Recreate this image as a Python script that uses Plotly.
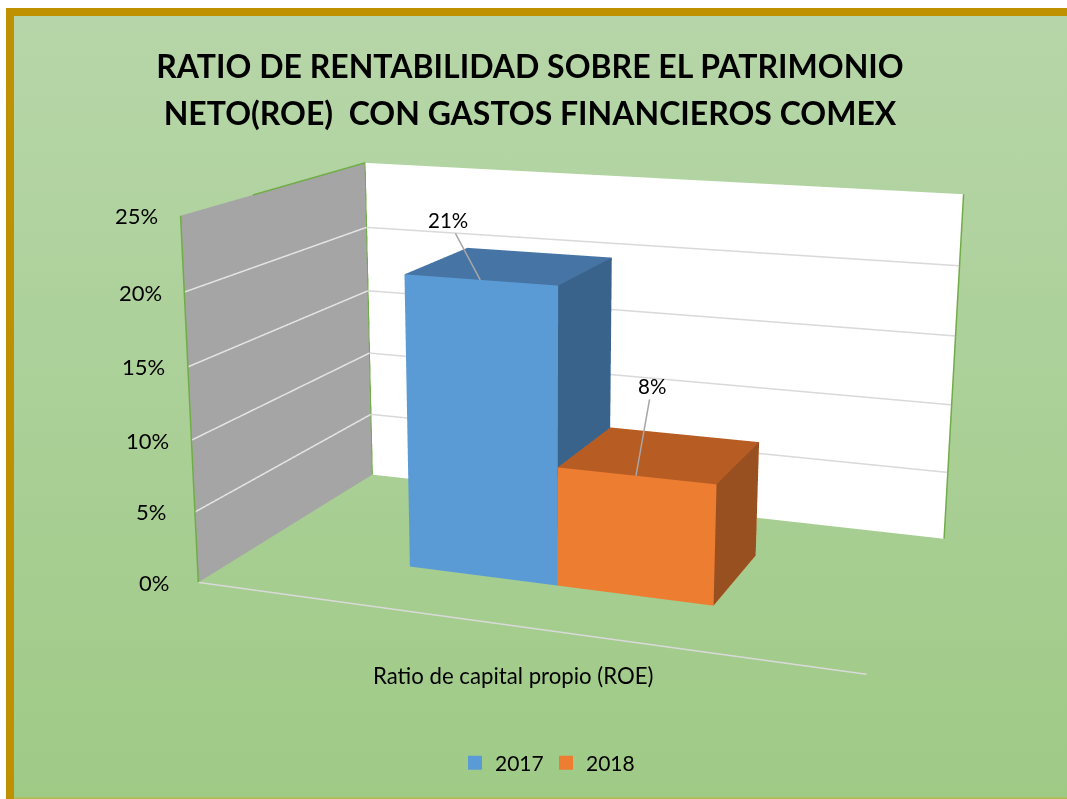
import plotly.graph_objects as go

W, H = 1067, 799
title_lines = ["RATIO DE RENTABILIDAD SOBRE EL PATRIMONIO", "NETO(ROE)  CON GASTOS FINANCIEROS COMEX"]
categories = ["Ratio de capital propio (ROE)"]
years = ["2017", "2018"]
values = [20.55, 8.3]
colors_front = ["#5B9BD5", "#ED7D31"]
colors_top = ["#4675A5", "#B75C23"]
colors_side = ["#3A638B", "#985021"]
tick_vals = [0, 5, 10, 15, 20, 25]
tick_text = ["0%", "5%", "10%", "15%", "20%", "25%"]
z_max = 25

# 3D layout of the clustered bars inside the unit category
x_edges = [0.264, 0.503, 0.742]
y_front, y_back = 0.295, 0.69
label_offsets = [(-32, -60), (16, -90)]

GOLD = "#BF9000"
WALL_EDGE = "#70AD47"
GRID = "#D9D9D9"
FOVY = 0.3735
DOM_X = [14 / W, 1.0]
DOM_Y = [0.0, 744 / H]


def box(xa, xb, ya, yb, zt, front, top, side, name):
    X = [xa, xb, xb, xa, xa, xb, xb, xa]
    Y = [ya, ya, yb, yb, ya, ya, yb, yb]
    Z = [0, 0, 0, 0, zt, zt, zt, zt]
    I = [0, 0, 1, 1, 4, 4, 0, 0, 3, 3, 2, 2]
    J = [1, 5, 2, 6, 5, 6, 1, 2, 7, 6, 6, 7]
    K = [5, 4, 6, 5, 6, 7, 2, 3, 4, 7, 7, 3]
    fc = [front, front, side, side, top, top, front, front, front, front, front, front]
    return go.Mesh3d(x=X, y=Y, z=Z, i=I, j=J, k=K, facecolor=fc, color=front, flatshading=True,
                     name=name, showlegend=False,
                     lighting=dict(ambient=1, diffuse=0, specular=0, fresnel=0), hoverinfo="skip")


def line3d(x, y, z, color, width):
    return go.Scatter3d(x=x, y=y, z=z, mode="lines", showlegend=False, hoverinfo="skip",
                        line=dict(color=color, width=width))


fig = go.Figure()
fig.add_trace(go.Scatter(x=[6 / W, 1, 1, 6 / W, 6 / W], y=[0, 0, 1 - 8 / H, 1 - 8 / H, 0], fill="toself",
                         mode="none", showlegend=False, hoverinfo="skip",
                         fillgradient=dict(type="vertical", colorscale=[[0, "#9FCA86"], [1, "#B7D6A9"]])))
for i in range(2):
    fig.add_trace(box(x_edges[i], x_edges[i + 1], y_front, y_back, values[i],
                      colors_front[i], colors_top[i], colors_side[i], years[i]))
    fig.add_trace(go.Scatter(x=[None], y=[None], mode="markers", name=years[i],
                             marker=dict(symbol="square", size=14, color=colors_front[i])))

# gridlines on the two walls
gx_wall, gy_wall, gz_wall, gx_back, gy_back, gz_back = [], [], [], [], [], []
for v in tick_vals[1:-1]:
    gx_wall += [0, 0, None]; gy_wall += [0, 1, None]; gz_wall += [v, v, None]
    gx_back += [0, 1, None]; gy_back += [1, 1, None]; gz_back += [v, v, None]
fig.add_trace(line3d(gx_wall, gy_wall, gz_wall, "#E4E4E4", 3))
fig.add_trace(line3d(gx_back, gy_back, gz_back, GRID, 3))
# category axis line
fig.add_trace(line3d([0, 1], [0, 0], [0, 0], GRID, 3))
# green wall edges
fig.add_trace(line3d([0, 0, None, 0, 0, 0, None, 1, 1], [0, 0, None, 0.35, 1, 1, None, 1, 1],
                     [0, z_max, None, z_max, z_max, 0, None, 0, z_max], WALL_EDGE, 3))

annots = []
for i in range(2):
    annots.append(dict(x=(x_edges[i] + x_edges[i + 1]) / 2, y=y_front, z=values[i],
                       text=f"{round(values[i])}%", showarrow=True, arrowhead=0, arrowwidth=1.5, arrowcolor="#A6A6A6",
                       ax=label_offsets[i][0], ay=label_offsets[i][1],
                       font=dict(size=20.5, color="#000", family="Lato")))
for v, t in zip(tick_vals, tick_text):
    annots.append(dict(x=0, y=0, z=v, text=t, showarrow=False, xshift=-44, yshift=0,
                       font=dict(size=22, color="#000", family="Lato")))
annots.append(dict(x=0.5, y=0, z=0, text=categories[0], showarrow=False, xshift=1, yshift=-50,
                   font=dict(size=22.2, color="#000", family="Lato")))

title_text = "<br>".join(f'<span style="font-size:32px">{s}</span>' for s in title_lines)
fig.update_layout(
    width=W, height=H, margin=dict(l=0, r=0, t=0, b=0), paper_bgcolor="white", plot_bgcolor="rgba(0,0,0,0)",
    xaxis=dict(visible=False, range=[0, 1], domain=[0, 1]),
    yaxis=dict(visible=False, range=[0, 1], domain=[0, 1]),
    font=dict(family="Lato", color="#000"),
    title=dict(text=title_text, x=530 / W, xanchor="center", y=1 - 78 / H, yanchor="middle",
               font=dict(size=36, family="Lato", weight="bold", color="#000")),
    shapes=[
        dict(type="rect", xref="paper", yref="paper", x0=6 / W, x1=1, y0=1 - 16 / H, y1=1 - 8 / H,
             fillcolor=GOLD, line_width=0),
        dict(type="rect", xref="paper", yref="paper", x0=6 / W, x1=14 / W, y0=0, y1=1 - 8 / H,
             fillcolor=GOLD, line_width=0),
        dict(type="rect", xref="paper", yref="paper", x0=14 / W, x1=1, y0=0, y1=1.5 / H,
             fillcolor="#B5B84A", line_width=0),
    ],
    scene=dict(
        domain=dict(x=DOM_X, y=DOM_Y), aspectmode="manual", bgcolor="rgba(0,0,0,0)",
        aspectratio=dict(x=1, y=0.59766, z=0.54801),
        camera=dict(eye=dict(x=0.95368, y=-2.6973, z=0.7169),
                    center=dict(x=-0.057041, y=-0.034853, z=-0.059367),
                    up=dict(x=0.0030676, y=0.00053302, z=1)),
        xaxis=dict(range=[0, 1], showgrid=False, showbackground=True, backgroundcolor="#A5A5A5",
                   showticklabels=False, ticks="", title="", showline=False, zeroline=False),
        yaxis=dict(range=[0, 1], showgrid=False, showbackground=True, backgroundcolor="#FFFFFF",
                   showticklabels=False, title="", showline=False, zeroline=False, ticks=""),
        zaxis=dict(range=[0, z_max], showticklabels=False, ticks="", showbackground=False, showgrid=False,
                   title="", showline=False, zeroline=False),
        annotations=annots,
    ),
    legend=dict(orientation="h", x=546 / W, xanchor="center", y=1 - 763 / H, yanchor="middle",
                entrywidth=46, entrywidthmode="pixels",
                font=dict(size=21, family="Lato"), bgcolor="rgba(0,0,0,0)"),
)
post = ("document.body.style.margin='0';document.body.style.overflow='hidden';"
        "var gd=document.getElementById('{plot_id}');var s=gd._fullLayout.scene._scene;"
        "s.glplot.fovy=%f;s.glplot.redraw();" % FOVY)
fig.write_html("out.html", post_script=post, config=dict(displayModeBar=False))
